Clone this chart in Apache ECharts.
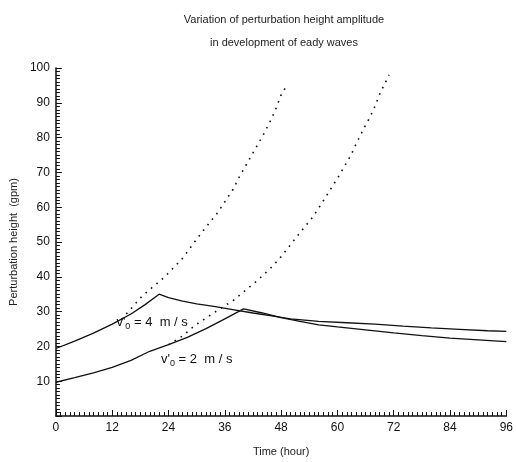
<!DOCTYPE html>
<html>
<head>
<meta charset="utf-8">
<script src="https://cdn.jsdelivr.net/npm/echarts@6/dist/echarts.min.js"></script>
<style>
    html, body { margin: 0; padding: 0; background: #fff; }
    #chart { width: 516px; height: 462px; }
</style>
</head>
<body>
<div id="chart"></div>
<script>
    // v'0 = 4 m/s, solid (nonlinear) curve
    const time4 = [0, 4, 8, 12, 16, 19, 22, 24, 27, 30, 34, 38, 42, 46, 50, 56, 62, 68, 74, 80, 86, 92, 96]
    const height4 = [19.4, 21.5, 23.8, 26.4, 29.3, 32.0, 35.0, 34.0, 33.0, 32.2, 31.4, 30.5, 29.6, 28.8, 27.9, 27.2, 26.8, 26.4, 25.8, 25.3, 24.9, 24.5, 24.3]
    // v'0 = 4 m/s, dotted (linear growth) curve
    const timeLin4 = [14, 18.4, 23.2, 26.8, 31, 34.5, 37.7, 39.2, 42.6, 44.4, 45.8, 46.8, 47.9, 49.2]
    const heightLin4 = [27.8, 34.5, 40, 45, 52.6, 58.5, 65, 69, 77, 81.3, 85, 88, 92, 95]

    // v'0 = 2 m/s, solid curve
    const time2 = [0, 4, 8, 12, 16, 20, 24, 28, 32, 36, 40, 44, 48, 52, 56, 60, 67, 72, 78, 84, 90, 96]
    const height2 = [9.7, 11.0, 12.4, 14.0, 16.0, 18.6, 20.5, 22.6, 25.1, 27.9, 30.8, 29.6, 28.3, 27.2, 26.2, 25.6, 24.6, 23.9, 23.1, 22.4, 21.9, 21.4]
    // v'0 = 2 m/s, dotted curve
    const timeLin2 = [24, 27, 29.6, 34.5, 38, 43, 46.3, 48, 50.7, 52.1, 54.4, 55.6, 58.1, 60.5, 62.9, 64.1, 65.5, 66.9, 68, 69.1, 70.5, 71]
    const heightLin2 = [20.5, 23, 26, 30.4, 33.4, 39, 43.2, 45.8, 50.4, 52.8, 56.6, 58.9, 64.2, 69.4, 75, 78.5, 82.3, 85.8, 89, 92.8, 96.6, 98]

    const xTicks = [0, 12, 24, 36, 48, 60, 72, 84, 96]
    const yTicks = [10, 20, 30, 40, 50, 60, 70, 80, 90, 100]

    function pairs(xs, ys) {
        return xs.map((x, i) => [x, ys[i]])
    }

    let myChart = echarts.init(document.getElementById('chart'))

    const font = 'Liberation Sans, Arial, sans-serif'
    const labelRich = {
        v: { fontSize: 13, fontFamily: font, color: '#111' },
        s: { fontSize: 9, fontFamily: font, color: '#111', padding: [8, 0, 0, 0] }
    }

    let option = {
        animation: false,
        backgroundColor: '#fff',
        title: {
            text: 'Variation of perturbation height amplitude\nin development of eady waves',
            left: 279,
            top: 3,
            textAlign: 'center',
            textStyle: {
                fontFamily: font,
                fontSize: 11,
                fontWeight: 'normal',
                color: '#222',
                lineHeight: 23
            }
        },
        grid: {
            left: 53,
            right: 8,
            top: 68,
            bottom: 44,
            containLabel: false
        },
        xAxis: {
            type: 'value',
            min: 0,
            max: 96,
            interval: 12,
            name: 'Time (hour)',
            nameLocation: 'middle',
            nameGap: 30,
            nameTextStyle: { fontFamily: font, fontSize: 11, color: '#222' },
            axisLine: { lineStyle: { color: '#111', width: 1.5 } },
            axisTick: { inside: true, length: 6, lineStyle: { color: '#111' } },
            minorTick: { show: true, splitNumber: 12, length: 4, lineStyle: { color: '#111' } },
            axisLabel: {
                fontFamily: font, fontSize: 12, color: '#111', margin: 6,
                formatter: v => xTicks.includes(v) ? String(v) : ''
            },
            splitLine: { show: false }
        },
        yAxis: {
            type: 'value',
            min: 0,
            max: 100,
            interval: 10,
            name: 'Perturbation height  (gpm)',
            nameLocation: 'middle',
            nameGap: 36,
            nameTextStyle: { fontFamily: font, fontSize: 11, color: '#222' },
            axisLine: { show: true, lineStyle: { color: '#111', width: 1.5 } },
            axisTick: { show: true, inside: true, length: 6, lineStyle: { color: '#111' } },
            minorTick: { show: true, splitNumber: 10, length: 4, lineStyle: { color: '#111' } },
            axisLabel: {
                fontFamily: font, fontSize: 12, color: '#111', margin: 6,
                formatter: v => yTicks.includes(v) ? String(v) : ''
            },
            splitLine: { show: false }
        },
        series: [
            {
                name: '4 m/s',
                type: 'line',
                data: pairs(time4, height4),
                symbol: 'none',
                lineStyle: { color: '#111', width: 1.3 },
                markPoint: {
                    symbolSize: 0,
                    label: {
                        show: true,
                        formatter: "{v|v'}{s|0}{v| = 4  m / s}",
                        rich: labelRich
                    },
                    data: [{ coord: [20.5, 27] }]
                }
            },
            {
                name: '4 m/s linear',
                type: 'line',
                data: pairs(timeLin4, heightLin4),
                symbol: 'none',
                lineStyle: { color: '#111', width: 1.6, type: [1.6, 5.5] }
            },
            {
                name: '2 m/s',
                type: 'line',
                data: pairs(time2, height2),
                symbol: 'none',
                lineStyle: { color: '#111', width: 1.3 },
                markPoint: {
                    symbolSize: 0,
                    label: {
                        show: true,
                        formatter: "{v|v'}{s|0}{v| = 2  m / s}",
                        rich: labelRich
                    },
                    data: [{ coord: [30, 16.2] }]
                }
            },
            {
                name: '2 m/s linear',
                type: 'line',
                data: pairs(timeLin2, heightLin2),
                symbol: 'none',
                lineStyle: { color: '#111', width: 1.6, type: [1.6, 5.5] }
            }
        ]
    }

    myChart.setOption(option)
</script>
</body>
</html>
